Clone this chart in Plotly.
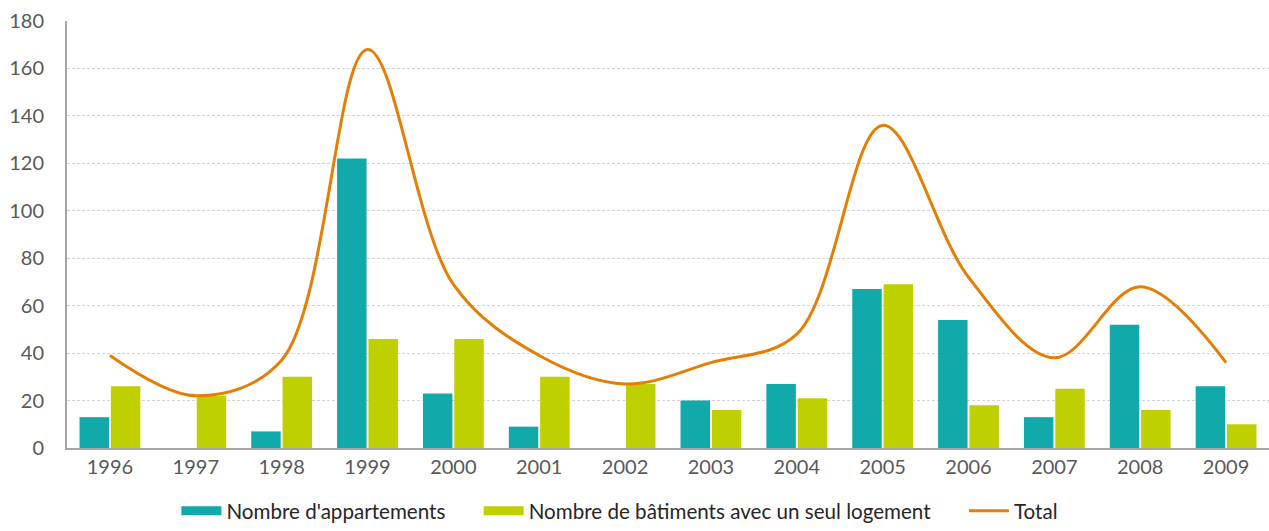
import plotly.graph_objects as go

years = ["1996", "1997", "1998", "1999", "2000", "2001", "2002",
         "2003", "2004", "2005", "2006", "2007", "2008", "2009"]
appartements = [13, 0, 7, 122, 23, 9, 0, 20, 27, 67, 54, 13, 52, 26]
batiments_seul = [26, 22, 30, 46, 46, 30, 27, 16, 21, 69, 18, 25, 16, 10]
total = [39, 22, 37, 168, 69, 39, 27, 36, 48, 136, 72, 38, 68, 36]
y_ticks = [0, 20, 40, 60, 80, 100, 120, 140, 160, 180]

TEAL = "#11A9A9"
LIME = "#BFD000"
ORANGE = "#E57E05"
TEXT = "#595959"
FONT = "Lato"
PAD = "\u2003\u2002\u2009"  # extra room between legend entries

fig = go.Figure()
fig.add_trace(go.Bar(
    x=years, y=appartements, name="Nombre d'appartements",
    marker=dict(color=TEAL, line=dict(width=0)), showlegend=False,
))
fig.add_trace(go.Bar(
    x=years, y=batiments_seul, name="Nombre de bâtiments avec un seul logement",
    marker=dict(color=LIME, line=dict(width=0)), showlegend=False,
))
fig.add_trace(go.Scatter(
    x=years, y=total, name="Total", mode="lines", showlegend=False,
    line=dict(color=ORANGE, width=3, shape="spline", smoothing=1.0),
))

# legend keys: wide rectangular swatches for the bars, thin line for the total
for name, color, width in [
    ("Nombre d'appartements" + PAD, TEAL, 9),
    ("Nombre de bâtiments avec un seul logement" + PAD, LIME, 9),
    ("Total", ORANGE, 3),
]:
    fig.add_trace(go.Scatter(
        x=[None], y=[None], name=name, mode="lines",
        line=dict(color=color, width=width), hoverinfo="skip",
    ))

fig.update_layout(
    width=1269, height=531,
    margin=dict(l=67, r=0, t=21, b=83),
    paper_bgcolor="white", plot_bgcolor="white",
    barmode="group", bargap=0.27, bargroupgap=0.06,
    font=dict(family=FONT, color=TEXT, size=18),
    showlegend=True,
    legend=dict(
        orientation="h", x=0.46, xanchor="center", y=-0.194, yanchor="bottom",
        font=dict(family=FONT, size=20.6, color="#262626"),
        itemwidth=40, traceorder="normal",
    ),
    xaxis=dict(
        type="category", showgrid=False, showline=True,
        linecolor="#A6A6A6", linewidth=2, ticks="",
        tickfont=dict(family=FONT, size=20, color=TEXT),
    ),
    yaxis=dict(
        range=[0, 180], tickvals=y_ticks, showgrid=True,
        gridcolor="#D3D3D3", griddash="3px,2px", gridwidth=1,
        showline=True, linecolor="#A6A6A6", linewidth=2,
        zeroline=False, ticks="", ticklabelstandoff=17,
        tickfont=dict(family=FONT, size=20, color=TEXT),
    ),
)

fig.write_html("out.html")
